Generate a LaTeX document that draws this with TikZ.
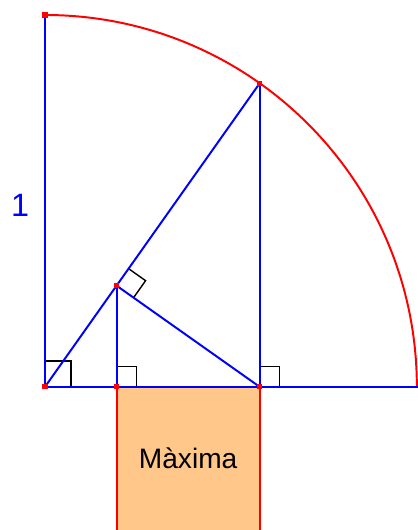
\documentclass[tikz,border=0pt]{standalone}
\usepackage{fontspec}
\setmainfont{Liberation Sans}
\usepackage{xcolor}
\usepackage{tikz}
\usetikzlibrary{calc}
\definecolor{seg}{HTML}{0000FF}
\definecolor{circ}{HTML}{FF0000}
\definecolor{sq}{HTML}{FFC78A}
\tikzset{
  segment/.style={seg, line width=1.4pt},
  rim/.style={circ, line width=1.4pt},
  rangle/.style={black, line width=1pt},
  dot/.style={rectangle, fill=circ, inner sep=0pt, minimum size=3.6pt},
  lbl/.style={font=\fontsize{23}{27}\selectfont, text=seg},
}
% maximum of cos(t) sin^2(t): tan(t) = sqrt(2)
\pgfmathsetmacro{\ang}{atan(sqrt(2))}

\begin{document}
\begin{tikzpicture}[x=9.3cm,y=9.3cm]
  \coordinate (O) at (0,0);
  \coordinate (T) at (0,1);
  \coordinate (E) at (1.003,0);
  \coordinate (P) at (\ang:1);
  \coordinate (Q) at (P |- O);
  \coordinate (R) at ($(O)!(Q)!(P)$);
  \coordinate (S) at (R |- O);
  \path let \p1=($(Q)-(S)$) in coordinate (S') at ($(S)-(0,\x1)$)
                              coordinate (Q') at ($(Q)-(0,\x1)$);
  \useasboundingbox (-45/372,0 |- S') rectangle (1.003,387/372);

  % the square
  \fill[sq] (S) rectangle (Q');
  \draw[rim] (S) -- (S');
  \draw[rim] (Q) -- (Q');
  \node[font=\fontsize{20}{24}\selectfont] (txt) at ($(S)!0.5!(Q')$) {Màxima};

  % quarter circle
  \draw[rim] (1,0) arc (0:90:1);

  % right angles
  \draw[rangle] ($(O)+(0,0.07)$) -- ($(O)+(0.07,0.07)$) -- ($(O)+(0.07,0)$);
  \draw[rangle] ($(S)+(0,0.054)$) -- ($(S)+(0.054,0.054)$) -- ($(S)+(0.054,0)$);
  \draw[rangle] ($(Q)+(0,0.054)$) -- ($(Q)+(0.054,0.054)$) -- ($(Q)+(0.054,0)$);
  \draw[rangle] ($(R)+(\ang:0.056)$) -- ($(R)+(\ang:0.056)+(\ang-90:0.056)$)
                -- ($(R)+(\ang-90:0.056)$);

  % segments
  \draw[segment] (O) -- (T);
  \draw[segment] (O) -- (E);
  \draw[segment] (O) -- (P);
  \draw[segment] (P) -- (Q);
  \draw[segment] (R) -- (Q);
  \draw[segment] (R) -- (S);

  \foreach \pt in {O,T,P,R,S,Q}
    \node[dot] at (\pt) {};

  \node[lbl] (one) at (-0.067,0.489) {1};
\end{tikzpicture}
\end{document}
